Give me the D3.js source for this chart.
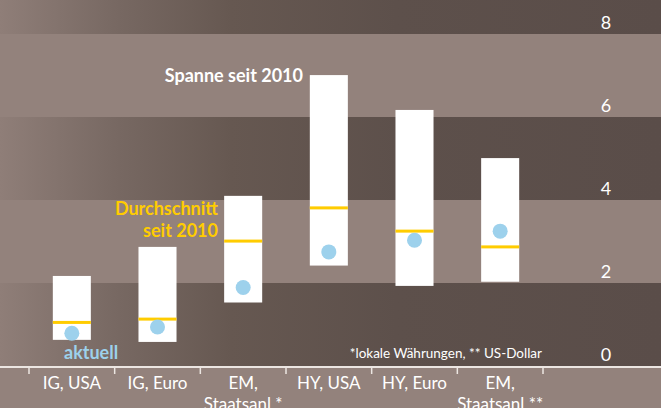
<!DOCTYPE html>
<html>
<head>
<meta charset="utf-8">
<script src="https://cdn.jsdelivr.net/npm/d3@7"></script>
<style>
  body { margin: 0; background: #93827c; }
  svg { display: block; font-family: Lato, "Open Sans", sans-serif; }
</style>
</head>
<body>
<div class="container-chart"></div>
<script>
// Spanne, Durchschnitt und aktueller Wert seit 2010 (in Prozentpunkten)
var categories = [["IG, USA"], ["IG, Euro"], ["EM,", "Staatsanl *"], ["HY, USA"], ["HY, Euro"], ["EM,", "Staatsanl **"]];
var rangeLow  = [0.63, 0.58, 1.53, 2.42, 1.93, 2.03];
var rangeHigh = [2.17, 2.87, 4.10, 7.01, 6.17, 5.01];
var average   = [1.05, 1.13, 3.01, 3.81, 3.25, 2.87];
var current   = [0.79, 0.94, 1.89, 2.75, 3.03, 3.25];
var yTicks = [0, 2, 4, 6, 8];

var width = 661;
var height = 408;

var svg = d3.select(".container-chart")
    .append("svg")
    .attr("width", width)
    .attr("height", height);

// gradient for the dark bands (lighter on the left)
var grad = svg.append("defs").append("linearGradient")
    .attr("id", "darkband")
    .attr("x1", "0").attr("x2", "1").attr("y1", "0").attr("y2", "0");
grad.append("stop").attr("offset", "0%").attr("stop-color", "#8f7e78");
grad.append("stop").attr("offset", "18%").attr("stop-color", "#776862");
grad.append("stop").attr("offset", "35%").attr("stop-color", "#665851");
grad.append("stop").attr("offset", "60%").attr("stop-color", "#5d504b");
grad.append("stop").attr("offset", "100%").attr("stop-color", "#5a4d49");

var y = d3.scaleLinear()
    .domain([0, 8])
    .range([366, 34]);

var names = categories.map(function (d) { return d.join(" "); });

var x = d3.scaleBand()
    .domain(names)
    .range([29, 543])
    .paddingInner(0.556)
    .paddingOuter(0.278);

// background bands
var bands = [
    { from: 0, to: 2, dark: true },
    { from: 2, to: 4, dark: false },
    { from: 4, to: 6, dark: true },
    { from: 6, to: 8, dark: false }
];
svg.append("rect")
    .attr("x", 0).attr("y", 0)
    .attr("width", width).attr("height", y(8))
    .attr("fill", "url(#darkband)");
svg.selectAll(".band")
    .data(bands)
    .enter()
    .append("rect")
    .attr("class", "band")
    .attr("x", 0)
    .attr("y", function (d) { return y(d.to); })
    .attr("width", width)
    .attr("height", function (d) { return y(d.from) - y(d.to); })
    .attr("fill", function (d) { return d.dark ? "url(#darkband)" : "#93827c"; });

// y labels
svg.selectAll(".ylabel")
    .data(yTicks)
    .enter()
    .append("text")
    .attr("class", "ylabel")
    .attr("x", 606)
    .attr("y", function (d) { return y(d) - 5; })
    .attr("text-anchor", "middle")
    .attr("fill", "#ffffff")
    .attr("font-size", "18px")
    .text(function (d) { return d; });

// Spanne
var data = names.map(function (n, i) {
    return { name: n, lines: categories[i], low: rangeLow[i], high: rangeHigh[i], avg: average[i], cur: current[i] };
});

svg.selectAll(".range")
    .data(data)
    .enter()
    .append("rect")
    .attr("class", "range")
    .attr("x", function (d) { return x(d.name); })
    .attr("y", function (d) { return y(d.high); })
    .attr("width", x.bandwidth())
    .attr("height", function (d) { return y(d.low) - y(d.high); })
    .attr("fill", "#ffffff");

// Durchschnitt
svg.selectAll(".avg")
    .data(data)
    .enter()
    .append("rect")
    .attr("class", "avg")
    .attr("x", function (d) { return x(d.name); })
    .attr("y", function (d) { return y(d.avg) - 1.5; })
    .attr("width", x.bandwidth())
    .attr("height", 3)
    .attr("fill", "#ffcc00");

// aktuell
svg.selectAll(".cur")
    .data(data)
    .enter()
    .append("circle")
    .attr("class", "cur")
    .attr("cx", function (d) { return x(d.name) + x.bandwidth() / 2; })
    .attr("cy", function (d) { return y(d.cur); })
    .attr("r", 7.5)
    .attr("fill", "#9dd1ec");

// x axis line and separators
svg.append("line")
    .attr("x1", 0).attr("x2", width)
    .attr("y1", y(0) + 1).attr("y2", y(0) + 1)
    .attr("stroke", "#ece6e2")
    .attr("stroke-width", 2);

var step = x.step();
var seps = names.map(function (n) { return x(n) + x.bandwidth() / 2 - step / 2; });
seps.push(seps[seps.length - 1] + step);
svg.selectAll(".sep")
    .data(seps)
    .enter()
    .append("line")
    .attr("class", "sep")
    .attr("x1", function (d) { return d; }).attr("x2", function (d) { return d; })
    .attr("y1", y(0) + 1).attr("y2", y(0) + 8)
    .attr("stroke", "#ece6e2")
    .attr("stroke-width", 1.5);

// category labels
var catLabels = svg.selectAll(".cat")
    .data(data)
    .enter()
    .append("text")
    .attr("class", "cat")
    .attr("x", function (d) { return x(d.name) + x.bandwidth() / 2; })
    .attr("y", 389)
    .attr("text-anchor", "middle")
    .attr("fill", "#ffffff")
    .attr("font-size", "17px");
catLabels.selectAll("tspan")
    .data(function (d) { return d.lines.map(function (l) { return { t: l, cx: x(d.name) + x.bandwidth() / 2 }; }); })
    .enter()
    .append("tspan")
    .attr("x", function (d) { return d.cx; })
    .attr("dy", function (d, i) { return i === 0 ? 0 : 21; })
    .text(function (d) { return d.t; });

// annotations
svg.append("text")
    .attr("x", 303).attr("y", 82)
    .attr("text-anchor", "end")
    .attr("fill", "#ffffff")
    .attr("font-size", "18px")
    .attr("font-weight", "bold")
    .text("Spanne seit 2010");

var dur = svg.append("text")
    .attr("x", 218).attr("y", 215)
    .attr("text-anchor", "end")
    .attr("fill", "#ffcc00")
    .attr("font-size", "18px")
    .attr("font-weight", "bold");
dur.append("tspan").attr("x", 218).text("Durchschnitt");
dur.append("tspan").attr("x", 218).attr("dy", 22).text("seit 2010");

svg.append("text")
    .attr("x", 64).attr("y", 359)
    .attr("fill", "#9dd1ec")
    .attr("font-size", "18px")
    .attr("font-weight", "bold")
    .text("aktuell");

svg.append("text")
    .attr("x", 542).attr("y", 358)
    .attr("text-anchor", "end")
    .attr("fill", "#ffffff")
    .attr("font-size", "13.5px")
    .text("*lokale Währungen, ** US-Dollar");
</script>
</body>
</html>
